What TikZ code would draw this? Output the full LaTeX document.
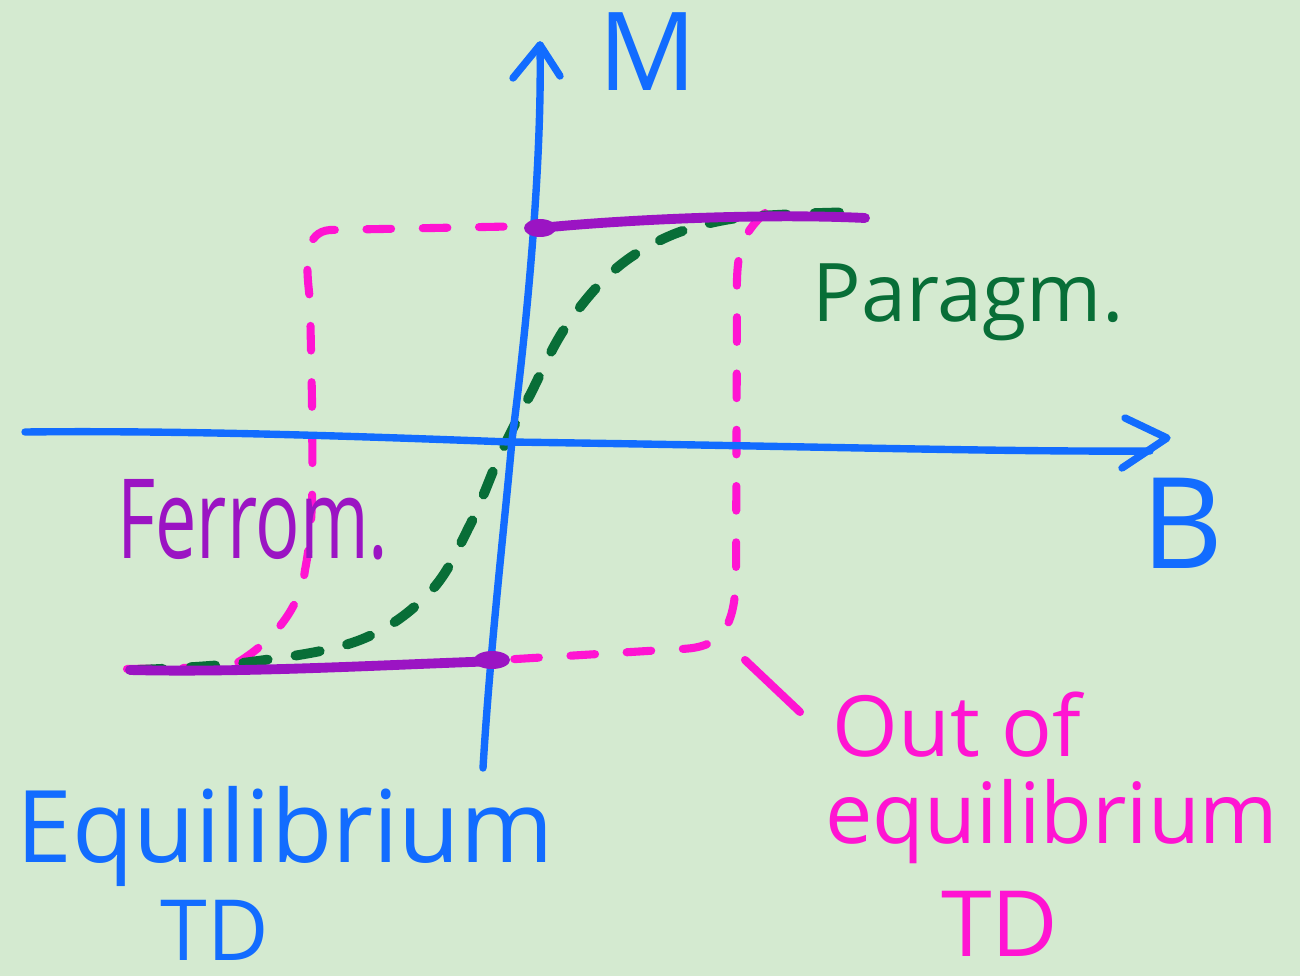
\documentclass[tikz,border=0pt]{standalone}
\usepackage{fontspec}
\setmainfont{Open Sans}
\definecolor{bg}{RGB}{212,234,208}
\definecolor{axblue}{RGB}{18,108,255}
\definecolor{pinkc}{RGB}{255,20,210}
\definecolor{purp}{RGB}{155,20,195}
\definecolor{dgreen}{RGB}{8,110,55}
\begin{document}
\begin{tikzpicture}[x=0.01cm,y=-0.01cm,line cap=round,line join=round,
  axisline/.style={draw=axblue,line width=2.1pt},
  pinkdash/.style={draw=pinkc,line width=2.3pt,dash pattern=on 7pt off 9pt},
  greendash/.style={draw=dgreen,line width=2.8pt,dash pattern=on 7pt off 8pt},
  purpline/.style={draw=purp,line width=2.8pt},
  lbl/.style={inner sep=0pt,anchor=center}]
\fill[bg] (0,0) rectangle (1300,976);
\useasboundingbox (0,0) rectangle (1300,976);

% coordinates
\coordinate (yb) at (483,768);
\coordinate (yt) at (540,45);
\coordinate (xl) at (25,432);
\coordinate (xr) at (1150,451);
\coordinate (xtip) at (1167,438);
\coordinate (ptr1) at (745,660);
\coordinate (ptr2) at (800,712);

% pink dashed (out of equilibrium loop)
\draw[pinkdash] (127,669) -- (230,667) .. controls (270,645) and (300,610) .. (305,570)
  .. controls (315,520) and (312,460) .. (312,400) -- (310,300)
  .. controls (305,260) and (305,232) .. (330,230) -- (535,226);
\draw[pinkdash] (765,213) .. controls (740,235) and (736,255) .. (737,300)
  -- (736,580) .. controls (734,630) and (720,648) .. (680,649) -- (500,660);
\draw[draw=pinkc,line width=2.3pt] (ptr1) -- (ptr2);

% green dashed paramagnet curve
\draw[greendash] plot[smooth,tension=0.6] coordinates {(138,670) (250,662) (360,640) (430,592) (470,525) (500,455) (530,395) (565,328) (612,272) (665,238) (725,220) (795,214) (865,212)};

% axes
\draw[axisline] (yb) .. controls (490,650) and (505,520) .. (512,440)
  .. controls (530,300) and (542,150) .. (yt);
\draw[axisline] (513,78) -- (yt) -- (560,76);
\draw[axisline] (xl) .. controls (200,430) and (400,438) .. (510,442)
  .. controls (800,446) and (1000,452) .. (xr);
\draw[axisline] (1125,418) -- (xtip) -- (1122,468);

% purple ferromagnet lines
\draw[purpline] (540,228) .. controls (620,220) and (760,213) .. (865,218);
\draw[purpline] (130,670) .. controls (250,673) and (400,664) .. (500,661);
\fill[purp] (540,228) ellipse (16 and 9);
\fill[purp] (492,660) ellipse (18 and 9);

% labels
\node[lbl,text=axblue,font=\fontsize{31}{36}\selectfont] (lM) at (648,52) {M};
\node[lbl,text=axblue,font=\fontsize{36}{42}\selectfont] (lB) at (1182,523) {B};
\node[lbl,text=dgreen,font=\fontsize{23}{28}\selectfont] (para) at (968,302) {Paragm.};
\node[lbl,text=purp,font=\fontsize{21}{26}\selectfont] (ferro) at (253,520) {\scalebox{1}[1.5]{Ferrom.}};
\node[lbl,text=axblue,font=\fontsize{28.5}{34}\selectfont] (eq) at (285,836) {Equilibrium};
\node[lbl,text=axblue,font=\fontsize{24}{29}\selectfont] (eqtd) at (215,930) {TD};
\node[lbl,text=pinkc,font=\fontsize{24}{29}\selectfont] (out) at (957,725) {Out of};
\node[lbl,text=pinkc,font=\fontsize{24}{29}\selectfont] (neq) at (1052,822) {equilibrium};
\node[lbl,text=pinkc,font=\fontsize{26}{31}\selectfont] (neqtd) at (1000,924) {TD};
\end{tikzpicture}
\end{document}
